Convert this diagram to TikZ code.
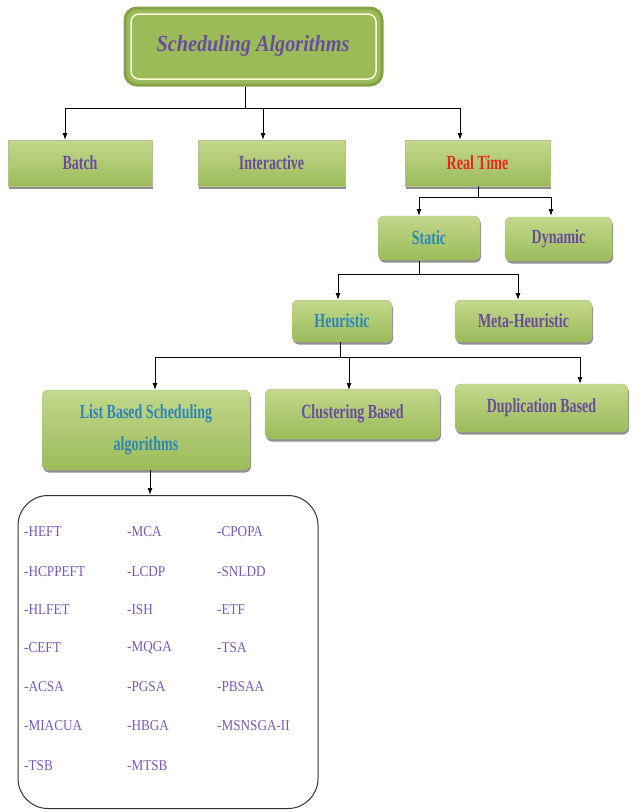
\documentclass[tikz,border=0pt]{standalone}
\usepackage{fontspec}
\setmainfont{Liberation Serif}
\newfontfamily\condfont{Liberation Serif}[FakeStretch=0.7]
\newfontfamily\titfont{Liberation Serif}[FakeStretch=0.88]
\newfontfamily\itemfont{Liberation Serif}[FakeStretch=0.88]
\usetikzlibrary{arrows.meta,shadows}
\definecolor{gfill}{HTML}{9BBB59}
\definecolor{glight}{HTML}{C3D88C}
\definecolor{gdark}{HTML}{7E9A42}
\definecolor{tpurple}{HTML}{6A4C9C}
\definecolor{tblue}{HTML}{2E86B8}
\definecolor{tred}{HTML}{E8281E}
\definecolor{ipurple}{HTML}{7A58B8}
\tikzset{
  gbox/.style={rectangle, minimum height=46pt, top color=glight, bottom color=gfill,
    draw=gdark!60, line width=0.4pt, font=\condfont\bfseries\fontsize{20}{22}\selectfont, text=tpurple,
    drop shadow={shadow xshift=1pt, shadow yshift=-2.5pt, fill=black!55, opacity=0.8}},
  rbox/.style={gbox, rounded corners=6pt},
  conn/.style={line width=1pt, -{Latex[length=7pt,width=5pt]}},
  plain/.style={line width=1pt},
  item/.style={anchor=west, font=\itemfont\fontsize{15}{17}\selectfont, text=ipurple, inner sep=0pt}
}
\begin{document}
\begin{tikzpicture}[x=1pt,y=-1pt]
\useasboundingbox (0,0) rectangle (637,812);
% title
\node[rectangle, rounded corners=12pt, minimum width=257pt, minimum height=77pt,
  fill=gfill, draw=gdark!80!gfill, line width=3pt] (title) at (253.5,46.5) {};
\draw[draw=white!85!yellow, line width=1.5pt, rounded corners=8pt] (131,14) rectangle (376,79);
\node[font=\titfont\bfseries\itshape\fontsize{23}{25}\selectfont, text=tpurple] (titletext) at (253,46) {Scheduling Algorithms};
% level 1
\node[gbox, minimum width=144pt] (batch) at (80,163) {Batch};
\node[gbox, minimum width=147pt] (inter) at (271.5,163) {Interactive};
\node[gbox, minimum width=145pt, text=tred] (real) at (477.5,163) {Real Time};
\coordinate (j1) at (245,108);
\draw[plain] (title.south -| j1) -- (j1);
\draw[plain] (65,108) -- (460,108);
\draw[conn] (65,108) -- (65,140);
\draw[conn] (263,108) -- (263,140);
\draw[conn] (460,108) -- (460,140);
% level 2
\node[rbox, minimum width=102pt, minimum height=44pt, text=tblue] (static) at (429,238) {Static};
\node[rbox, minimum width=107pt, minimum height=44pt] (dyn) at (558.5,239) {Dynamic};
\draw[plain] (478,186) -- (478,197);
\draw[plain] (419,197) -- (551,197);
\draw[conn] (419,197) -- (419,216);
\draw[conn] (551,197) -- (551,216);
% level 3
\node[rbox, minimum width=100pt, minimum height=42pt, text=tblue] (heur) at (342,321) {Heuristic};
\node[rbox, minimum width=137pt, minimum height=42pt] (meta) at (523.5,321) {Meta-Heuristic};
\draw[plain] (419,261) -- (419,274);
\draw[plain] (338,274) -- (518,274);
\draw[conn] (338,274) -- (338,300);
\draw[conn] (518,274) -- (518,300);
% level 4
\node[rbox, minimum width=208pt, minimum height=80pt, text=tblue, align=center] (list) at (146,430)
  {List Based Scheduling\\[10pt]algorithms};
\node[rbox, minimum width=175pt, minimum height=50pt] (clus) at (352.5,414) {Clustering Based};
\node[rbox, minimum width=173pt, minimum height=48pt] (dup) at (541.5,408) {Duplication Based};
\draw[plain] (340,342) -- (340,357);
\draw[plain] (155,357) -- (580,357);
\draw[conn] (155,357) -- (155,390);
\draw[conn] (349,357) -- (349,390);
\draw[conn] (580,357) -- (580,384);
% list box
\node[rectangle, rounded corners=30pt, draw=black!80, line width=1pt, minimum width=300pt, minimum height=313pt] (lbox) at (168,652) {};
\draw[conn] (list.south -| 150,0) -- (lbox.north -| 150,0);
% items
\node[item] (i1) at (24,532) {-HEFT};
\node[item] (i2) at (24,572) {-HCPPEFT};
\node[item] (i3) at (24,610) {-HLFET};
\node[item] (i4) at (24,648) {-CEFT};
\node[item] (i5) at (24,687) {-ACSA};
\node[item] (i6) at (24,726) {-MIACUA};
\node[item] (i7) at (24,766) {-TSB};
\node[item] (j1i) at (127,532) {-MCA};
\node[item] (j2i) at (127,572) {-LCDP};
\node[item] (j3i) at (127,610) {-ISH};
\node[item] (j4i) at (127,648) {-MQGA};
\node[item] (j5i) at (127,687) {-PGSA};
\node[item] (j6i) at (127,726) {-HBGA};
\node[item] (j7i) at (127,766) {-MTSB};
\node[item] (k1) at (217,532) {-CPOPA};
\node[item] (k2) at (217,572) {-SNLDD};
\node[item] (k3) at (217,610) {-ETF};
\node[item] (k4) at (217,648) {-TSA};
\node[item] (k5) at (217,687) {-PBSAA};
\node[item] (k6) at (217,726) {-MSNSGA-II};
\end{tikzpicture}
\end{document}
